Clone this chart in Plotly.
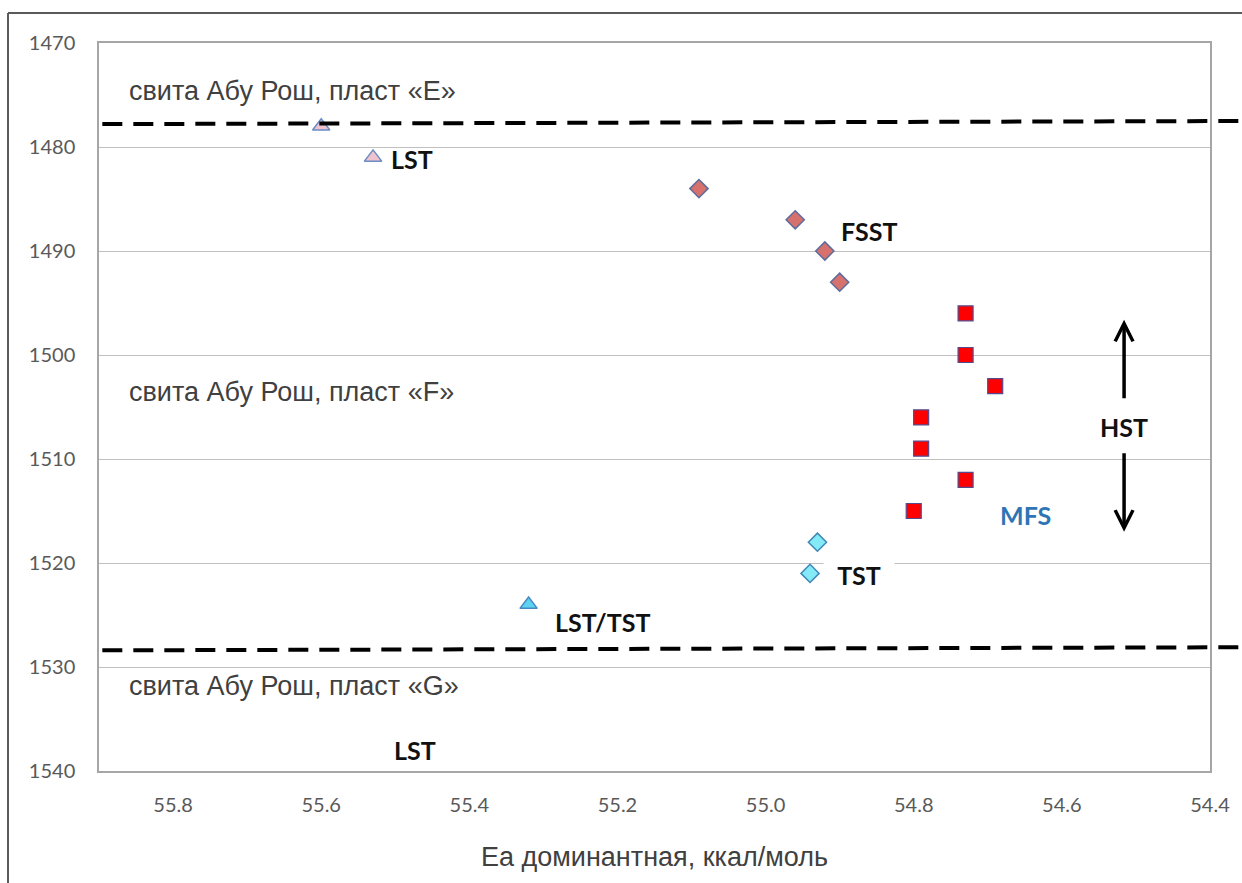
import plotly.graph_objects as go

# ---------------- data ----------------
lst_top_x = [55.60, 55.53]
lst_top_y = [1478, 1481]

fsst_x = [55.09, 54.96, 54.92, 54.90]
fsst_y = [1484, 1487, 1490, 1493]

hst_x = [54.73, 54.73, 54.69, 54.79, 54.79, 54.73, 54.80]
hst_y = [1496, 1500, 1503, 1506, 1509, 1512, 1515]

tst_x = [54.93, 54.94]
tst_y = [1518, 1521]

lsttst_x = [55.32]
lsttst_y = [1524]

# formation boundaries (depth at left / right end of dashed line)
boundary_left = [1477.8, 1528.4]
boundary_right = [1477.5, 1528.1]

formation_labels = ["свита Абу Рош, пласт «E»", "свита Абу Рош, пласт «F»", "свита Абу Рош, пласт «G»"]
formation_label_y = [1474.6, 1503.6, 1531.8]

tract_labels = ["LST", "FSST", "HST", "MFS", "TST", "LST/TST", "LST"]
tract_label_x = [55.478, 54.860, 54.516, 54.649, 54.874, 55.220, 55.474]
tract_label_y = [1481.2, 1488.1, 1506.9, 1515.4, 1521.15, 1525.7, 1538.0]

hst_arrow_x = 54.516
hst_arrow_up = [1504.3, 1496.6]    # tail, head
hst_arrow_down = [1509.3, 1517.0]  # tail, head

x_ticks = [55.8, 55.6, 55.4, 55.2, 55.0, 54.8, 54.6, 54.4]
y_ticks = [1470, 1480, 1490, 1500, 1510, 1520, 1530, 1540]
x_range = [55.9, 54.4]
y_range = [1540, 1470]

x_title = "Еа доминантная, ккал/моль"

# ---------------- figure ----------------
fig = go.Figure()

fig.add_trace(go.Scatter(x=lst_top_x, y=lst_top_y, mode="markers",
                         marker=dict(symbol="triangle-up", size=15, color="#EEC3CB",
                                     line=dict(color="#6A8CC6", width=1.5))))
fig.add_trace(go.Scatter(x=fsst_x, y=fsst_y, mode="markers",
                         marker=dict(symbol="diamond", size=14, color="#D7716D",
                                     line=dict(color="#5E6C9C", width=1.5))))
fig.add_trace(go.Scatter(x=hst_x, y=hst_y, mode="markers",
                         marker=dict(symbol="square", size=15, color="#FF0000",
                                     line=dict(color="#574A8C", width=1.2))))
fig.add_trace(go.Scatter(x=tst_x, y=tst_y, mode="markers",
                         marker=dict(symbol="diamond", size=14, color="#85EAF7",
                                     line=dict(color="#3F88B6", width=1.5))))
fig.add_trace(go.Scatter(x=lsttst_x, y=lsttst_y, mode="markers",
                         marker=dict(symbol="triangle-up", size=15, color="#5CD3F0",
                                     line=dict(color="#4A88C2", width=1.5))))

shapes = []
# dashed formation boundaries (extend past plot area to the right)
for yl, yr in zip(boundary_left, boundary_right):
    shapes.append(dict(type="line", xref="paper", yref="y", x0=0.003, x1=1.03,
                       y0=yl, y1=yr, line=dict(color="black", width=4, dash="20px,11px")))
# outer frame (left + top edges)
shapes.append(dict(type="line", xref="paper", yref="paper", x0=-0.0819, x1=-0.0819,
                   y0=-0.2, y1=1.0412, line=dict(color="#5A5A5A", width=2)))
shapes.append(dict(type="line", xref="paper", yref="paper", x0=-0.0819, x1=1.05,
                   y0=1.0412, y1=1.0412, line=dict(color="#5A5A5A", width=2)))

annotations = []
for txt, yy in zip(formation_labels, formation_label_y):
    annotations.append(dict(x=55.862, y=yy, xref="x", yref="y", text=txt, showarrow=False,
                            xanchor="left", yanchor="middle",
                            font=dict(family="Liberation Sans, Arial", size=27, color="#404040")))
for txt, xx, yy in zip(tract_labels, tract_label_x, tract_label_y):
    col = "#2E75B6" if txt == "MFS" else "#111111"
    ann = dict(x=xx, y=yy, xref="x", yref="y", text="<b>" + txt + "</b>", showarrow=False,
               xanchor="center", yanchor="middle",
               font=dict(family="Lato", size=25, color=col))
    if txt == "TST":
        ann.update(bgcolor="white", width=62, borderpad=4)
    annotations.append(ann)
for tail, head in (hst_arrow_up, hst_arrow_down):
    annotations.append(dict(x=hst_arrow_x, y=head, ax=hst_arrow_x, ay=tail,
                            xref="x", yref="y", axref="x", ayref="y", text="",
                            showarrow=True, arrowhead=5, arrowsize=1.0, arrowwidth=3.5,
                            arrowcolor="black"))
annotations.append(dict(x=0.5, y=-0.1181, xref="paper", yref="paper", text=x_title,
                        showarrow=False, xanchor="center", yanchor="middle",
                        font=dict(family="Liberation Sans, Arial", size=27, color="#404040")))

fig.update_layout(
    width=1242, height=883,
    margin=dict(l=99, r=32, t=43, b=112),
    paper_bgcolor="white", plot_bgcolor="white",
    showlegend=False,
    shapes=shapes,
    annotations=annotations,
    xaxis=dict(range=x_range, tickvals=x_ticks, ticktext=[f"{v:.1f}" for v in x_ticks],
               showgrid=False, zeroline=False, showline=True, mirror=True,
               linecolor="#A6A6A6", linewidth=1.5,
               ticks="outside", ticklen=15, tickcolor="rgba(0,0,0,0)",
               tickfont=dict(family="Lato", size=20, color="#595959")),
    yaxis=dict(range=y_range, tickvals=y_ticks, showgrid=True, gridcolor="#C0C0C0", gridwidth=1,
               zeroline=False, showline=True, mirror=True, linecolor="#A6A6A6", linewidth=1.5,
               ticks="outside", ticklen=18, tickcolor="rgba(0,0,0,0)",
               tickfont=dict(family="Lato", size=20, color="#595959")),
)

fig.write_html("out.html")
